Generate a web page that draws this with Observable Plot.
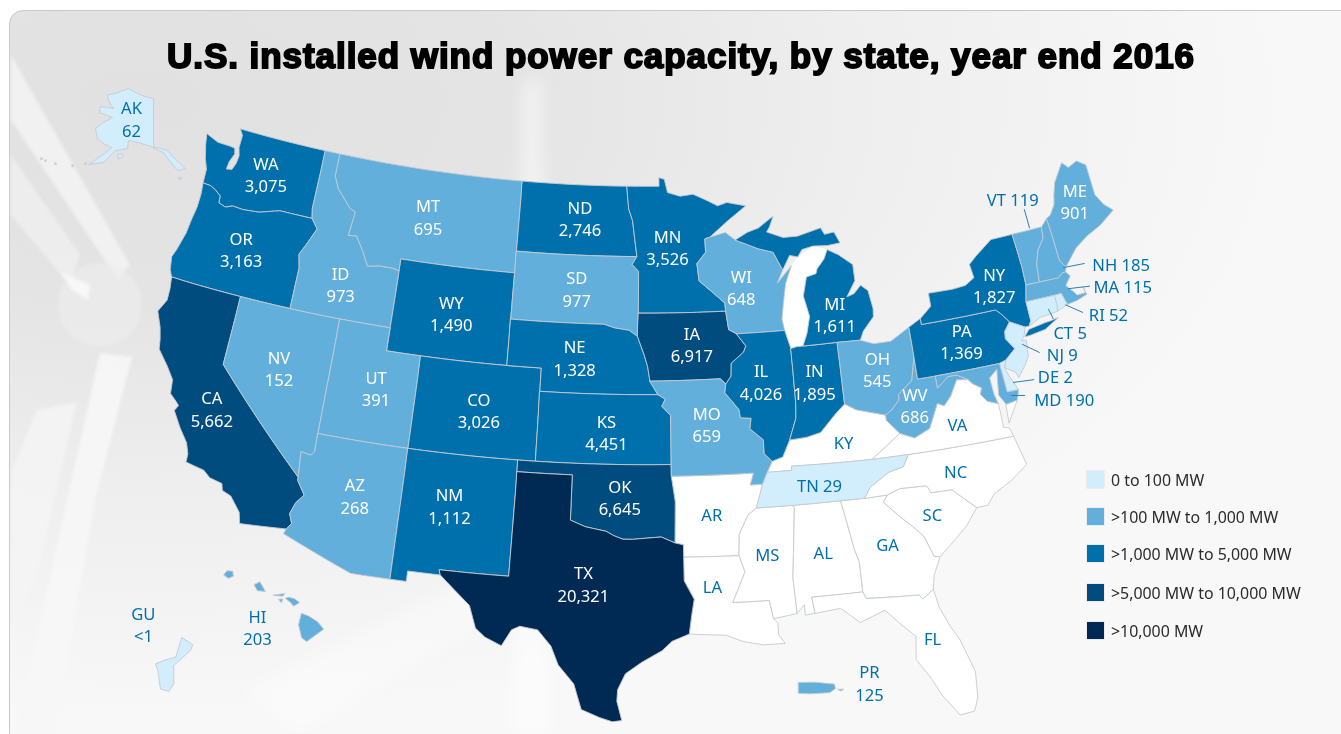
<!DOCTYPE html>
<html><head><meta charset="utf-8">
<script src="https://cdn.jsdelivr.net/npm/d3@7"></script>
<script src="https://cdn.jsdelivr.net/npm/@observablehq/plot@0.6"></script>
<style>
html,body{margin:0;padding:0;width:1341px;height:734px;overflow:hidden;background:#fff;font-family:"Noto Sans",sans-serif}
#frame{position:absolute;left:9px;top:10px;width:1360px;height:760px;border:1px solid #c9c9c9;border-radius:14px;box-sizing:border-box;overflow:hidden;
background:radial-gradient(ellipse 1150px 620px at 130px 90px,#e1e1e2 0%,#e4e4e5 32%,#eeeeef 62%,#f8f8f9 100%)}
#decor{position:absolute;left:0;top:0}
#chart{position:absolute;left:0;top:0}
h1{position:absolute;left:0;width:1362px;top:32px;margin:0;text-align:center;font:700 35px/48px "Liberation Sans",Arial,sans-serif;color:#000;-webkit-text-stroke:1.9px #000;letter-spacing:.95px;white-space:nowrap}
#legend{position:absolute;left:1087px;top:0}
#legend div{position:absolute;left:0;white-space:nowrap;font-size:15.9px;line-height:18px;color:#2b2b2b;padding-left:24px}
#legend i{position:absolute;left:0;top:0;width:17px;height:17px;box-shadow:0 0 0 .5px #d8e2ea}
</style></head>
<body>
<div id="frame"></div>
<svg id="decor" width="1341" height="734"><defs><filter id="b"><feGaussianBlur stdDeviation="1.5"/></filter><filter id="c"><feGaussianBlur stdDeviation="8"/></filter></defs>
<g filter="url(#b)"><path d="M11 55L130 265L118 280L11 120Z" fill="#f3f3f3" opacity=".85"/><path d="M11 155L80 255L70 285L11 215Z" fill="#fafafa" opacity=".45"/>
<circle cx="100" cy="305" r="42" fill="#ededed" opacity=".7"/><path d="M60 272L90 285L88 300L72 290Z" fill="#f8f8f8"/>
<path d="M100 353L132 357L95 500L55 734L15 734Z" fill="#f7f7f7" opacity=".9"/><path d="M37 410L77 402L40 560L12 640L12 470Z" fill="#f5f5f5" opacity=".8"/></g>
<g filter="url(#c)"><path d="M523 80L542 80L550 734L512 734Z" fill="#fff" opacity=".5"/><path d="M240 690L700 470L720 490L300 734Z" fill="#fff" opacity=".35"/></g></svg>
<div id="chart"></div>
<h1>U.S. installed wind power capacity, by state, year end 2016</h1>
<div id="legend"></div>
<script>
// Installed capacity (MW)
const stateCodes = ["AK","WA","OR","CA","NV","ID","MT","WY","UT","AZ","CO","NM","ND","SD","NE","KS","OK","TX","MN","IA","MO","WI","IL","IN","MI","OH","TN","WV","PA","NY","ME","VT","NH","MA","RI","CT","NJ","DE","MD","HI","GU","PR"];
const stateMW    = [62,3075,3163,5662,152,973,695,1490,391,268,3026,1112,2746,977,1328,4451,6645,20321,3526,6917,659,648,4026,1895,1611,545,29,686,1369,1827,901,119,185,115,52,5,9,2,190,203,0.5,125];
const noDataStates = ["AR","LA","MS","AL","GA","FL","SC","NC","VA","KY"];
const legendLabels = ["0 to 100 MW",">100 MW to 1,000 MW",">1,000 MW to 5,000 MW",">5,000 MW to 10,000 MW",">10,000 MW"];
const thresholds = [100,1000,5000,10000];
const palette = ["#d2edfb","#62afdc","#0070ad","#004c7f","#002a54"];

// Outlines as "lon,lat" rings
const shapes = {
WA:["-124.73,48.38 -123.9,48.16 -123.1,48.15 -122.75,48.12 -122.65,47.88 -122.85,47.5 -122.9,47.15 -122.55,47.2 -122.4,47.5 -122.35,47.85 -122.5,48.2 -122.5,48.75 -122.76,49 -117.03,49 -117.04,46.42 -116.92,46 -118.98,46 -119.3,45.93 -120.2,45.72 -121.2,45.65 -121.9,45.68 -122.3,45.55 -122.76,45.65 -122.8,45.95 -123.2,46.15 -123.55,46.26 -124.05,46.27 -124.1,46.9 -124.35,47.3 -124.6,47.9"],
OR:["-124.05,46.27 -123.97,45.8 -123.97,45.2 -124.08,44.6 -124.15,44 -124.4,43.2 -124.56,42.84 -124.42,42.3 -124.21,42 -120,42 -117.03,42 -117.03,43.8 -117.22,44.36 -116.85,44.95 -116.47,45.6 -116.7,45.8 -116.92,46 -118.98,46 -119.3,45.93 -120.2,45.72 -121.2,45.65 -121.9,45.68 -122.3,45.55 -122.76,45.65 -122.8,45.95 -123.2,46.15 -123.55,46.26"],
CA:["-124.21,42 -124.1,41.5 -124.07,41 -124.4,40.44 -124,39.8 -123.8,39.3 -123.7,38.9 -123,38.3 -122.5,37.8 -122.4,37.2 -122,36.95 -121.8,36.8 -121.95,36.55 -121.4,35.9 -120.85,35.35 -120.63,34.9 -120.62,34.55 -119.6,34.4 -119.2,34.15 -118.5,34.03 -118.4,33.75 -117.9,33.6 -117.28,33 -117.13,32.53 -114.72,32.72 -114.5,33 -114.7,33.4 -114.5,33.9 -114.14,34.3 -114.63,34.87 -114.63,35 -120,39 -120,42"],
NV:["-120,42 -117.03,42 -114.04,42 -114.04,37 -114.04,36.2 -114.2,36.03 -114.75,36.1 -114.63,35 -120,39"],
AZ:["-114.04,37 -109.05,37 -109.05,31.33 -111.07,31.33 -114.81,32.5 -114.72,32.72 -114.5,33 -114.7,33.4 -114.5,33.9 -114.14,34.3 -114.63,34.87 -114.63,35 -114.75,36.1 -114.2,36.03 -114.04,36.2"],
UT:["-114.04,42 -111.05,42 -111.05,41 -109.05,41 -109.05,37 -114.04,37"],
ID:["-117.03,49 -116.05,49 -116.05,48 -115.7,47.5 -114.7,46.75 -114.35,46.65 -114.5,45.6 -114,45.65 -113.45,45.05 -113,44.45 -112.3,44.55 -111.5,44.55 -111.05,44.48 -111.05,42 -114.04,42 -117.03,42 -117.03,43.8 -117.22,44.36 -116.85,44.95 -116.47,45.6 -116.7,45.8 -116.92,46 -117.04,46.42"],
MT:["-116.05,49 -104.05,49 -104.05,45.94 -104.05,45 -111.05,45 -111.05,44.48 -111.5,44.55 -112.3,44.55 -113,44.45 -113.45,45.05 -114,45.65 -114.5,45.6 -114.35,46.65 -114.7,46.75 -115.7,47.5 -116.05,48"],
WY:["-111.05,45 -104.05,45 -104.05,43 -104.05,41 -109.05,41 -111.05,41"],
CO:["-109.05,41 -104.05,41 -102.05,41 -102.05,40 -102.05,37 -103,37 -109.05,37"],
NM:["-109.05,37 -103,37 -103,36.5 -103.04,32 -106.62,32 -106.53,31.78 -108.21,31.78 -108.21,31.33 -109.05,31.33"],
ND:["-104.05,49 -97.23,49 -97.1,48 -96.85,47.5 -96.56,45.94 -104.05,45.94"],
SD:["-104.05,45.94 -96.56,45.94 -96.85,45.6 -96.45,45.3 -96.45,43.5 -96.5,42.5 -97,42.76 -97.85,42.85 -98.5,43 -104.05,43"],
NE:["-104.05,43 -98.5,43 -97.85,42.85 -97,42.76 -96.5,42.5 -96.1,41.7 -95.9,41.2 -95.77,40.58 -95.31,40 -102.05,40 -102.05,41 -104.05,41"],
KS:["-102.05,40 -95.31,40 -94.9,39.8 -95.1,39.5 -94.61,39.1 -94.62,37 -102.05,37"],
OK:["-103,37 -102.05,37 -94.62,37 -94.62,36.5 -94.43,35.4 -94.48,33.64 -95.2,33.9 -96,33.85 -96.7,33.8 -97.2,33.8 -97.7,33.95 -98.1,34.13 -99.2,34.3 -100,34.56 -100,36.5 -103,36.5"],
TX:["-103,36.5 -100,36.5 -100,34.56 -99.2,34.3 -98.1,34.13 -97.7,33.95 -97.2,33.8 -96.7,33.8 -96,33.85 -95.2,33.9 -94.48,33.64 -94.04,33.55 -94.04,33.02 -94.04,32 -93.55,31.2 -93.7,30.5 -93.84,29.7 -94.7,29.4 -95.2,29 -96.2,28.5 -97,28 -97.37,27.3 -97.4,26.8 -97.15,25.96 -97.6,25.9 -98.2,26.07 -99.1,26.4 -99.5,27.5 -100.3,28.3 -100.7,29.1 -101.4,29.77 -102.3,29.88 -102.7,29.7 -103.15,28.98 -104,29.3 -104.5,29.65 -104.9,30.6 -106.53,31.78 -106.62,32 -103.04,32"],
MN:["-97.23,49 -95.15,49 -95.15,49.38 -94.8,49.3 -94.6,48.72 -93.8,48.55 -92.95,48.62 -92,48.3 -91.4,48.07 -90.8,48.2 -89.6,48 -90.8,47.4 -92,46.72 -92.29,46.66 -92.29,46.07 -92.85,45.6 -92.75,44.85 -91.9,44.3 -91.25,43.85 -91.22,43.5 -96.45,43.5 -96.45,45.3 -96.85,45.6 -96.56,45.94 -96.85,47.5 -97.1,48"],
IA:["-96.45,43.5 -91.22,43.5 -91.1,42.7 -90.64,42.5 -90.15,41.95 -90.3,41.7 -91.05,41.25 -91.1,40.7 -91.42,40.38 -91.73,40.61 -95.77,40.58 -95.9,41.2 -96.1,41.7 -96.5,42.5"],
MO:["-95.77,40.58 -91.73,40.61 -91.42,40.38 -91.5,40 -90.75,39.25 -90.7,38.9 -90.1,38.85 -90.2,38.4 -89.5,37.9 -89.5,37.3 -89.1,36.95 -89.4,36.5 -89.7,36 -90.37,36 -90.15,36.5 -94.62,36.5 -94.62,37 -94.61,39.1 -95.1,39.5 -94.9,39.8 -95.31,40"],
AR:["-94.62,36.5 -90.15,36.5 -90.37,36 -89.7,36 -90.1,35 -90.6,34.7 -91.1,33.9 -91.17,33 -94.04,33.02 -94.04,33.55 -94.48,33.64 -94.43,35.4"],
LA:["-94.04,33.02 -91.17,33 -90.9,32.3 -91.6,31 -89.75,31 -89.6,30.2 -89.4,30 -89.4,29.5 -89.1,29.1 -90.2,29.1 -91.2,29.3 -92,29.6 -93.84,29.7 -93.7,30.5 -93.55,31.2 -94.04,32"],
MS:["-90.1,35 -88.2,35 -88.1,34.9 -88.47,31.9 -88.4,30.35 -89.6,30.2 -89.75,31 -91.6,31 -90.9,32.3 -91.17,33 -91.1,33.9 -90.6,34.7"],
AL:["-88.2,35 -85.6,35 -85.18,32.87 -85,32.3 -85,31 -87.6,31 -87.5,30.3 -88,30.25 -88,30.7 -88.4,30.35 -88.47,31.9 -88.1,34.9"],
TN:["-89.7,36 -89.4,36.5 -88.07,36.5 -88.07,36.68 -86.5,36.65 -83.68,36.6 -81.68,36.59 -82.05,36.1 -82.9,35.95 -84,35.4 -84.32,34.99 -85.6,35 -88.2,35 -90.1,35"],
KY:["-89.4,36.5 -89.1,36.95 -88.5,37.1 -88.05,37.8 -87.1,37.85 -86.3,38 -85.4,38.7 -84.8,39.1 -84.2,38.8 -83.6,38.65 -82.6,38.4 -82.6,38.17 -81.97,37.54 -83.68,36.6 -86.5,36.65 -88.07,36.68 -88.07,36.5"],
IL:["-90.64,42.5 -87.8,42.5 -87.53,41.7 -87.53,39.35 -87.6,38.7 -88.05,37.8 -88.5,37.1 -89.1,36.95 -89.5,37.3 -89.5,37.9 -90.2,38.4 -90.1,38.85 -90.7,38.9 -90.75,39.25 -91.5,40 -91.42,40.38 -91.1,40.7 -91.05,41.25 -90.3,41.7 -90.15,41.95"],
IN:["-87.53,41.7 -87.2,41.76 -86.8,41.76 -84.8,41.76 -84.8,39.1 -85.4,38.7 -86.3,38 -87.1,37.85 -88.05,37.8 -87.6,38.7 -87.53,39.35"],
OH:["-84.8,41.76 -83.45,41.73 -82.7,41.5 -81.7,41.5 -80.52,41.98 -80.52,40.64 -80.65,40.3 -80.85,39.7 -81.7,39.2 -81.75,38.95 -82.2,38.6 -82.6,38.4 -83.6,38.65 -84.2,38.8 -84.8,39.1"],
WI:["-92.29,46.66 -92,46.72 -91,46.9 -90.4,46.55 -89,46.1 -88.1,45.9 -87.6,45.1 -88,44.55 -87.05,45.25 -87.5,44.5 -87.7,43.8 -87.9,43 -87.8,42.5 -90.64,42.5 -91.1,42.7 -91.22,43.5 -91.25,43.85 -91.9,44.3 -92.75,44.85 -92.85,45.6 -92.29,46.07"],
MI:["-90.4,46.55 -89.6,46.85 -88.9,47 -87.9,47.47 -88.2,47 -88.4,46.8 -87.4,46.5 -86.5,46.5 -85,46.75 -84.8,46.45 -84.2,46.5 -83.9,46 -84.7,45.95 -85.6,46 -86.3,45.9 -86.6,45.6 -87.1,45.7 -87.6,45.1 -88.1,45.9 -89,46.1",
    "-86.8,41.76 -84.8,41.76 -83.45,41.73 -83.2,42.1 -82.5,42.65 -82.45,43 -82.6,43.8 -83,44.07 -83.45,43.75 -83.9,43.65 -83.3,44.3 -83.3,45 -84.1,45.5 -84.75,45.78 -85,45.4 -85.5,45 -85.6,44.8 -86.2,44.7 -86.5,43.9 -86.25,43 -86.5,42.3"],
PA:["-80.52,41.98 -79.76,42.27 -79.76,42 -75.35,42 -75.05,41.75 -74.7,41.36 -75.1,41 -75.15,40.7 -74.75,40.2 -75.4,39.8 -75.79,39.72 -79.48,39.72 -80.52,39.72 -80.52,40.64"],
NY:["-79.76,42 -75.35,42 -75.05,41.75 -74.7,41.36 -73.9,41 -73.65,41 -73.49,41.2 -73.5,42.05 -73.27,42.75 -73.25,43.55 -73.35,45.01 -74.7,45 -75.8,44.45 -76.3,44.15 -76.2,43.55 -76.8,43.3 -77.6,43.25 -79.05,43.27 -79.05,42.7 -79.76,42.27",
    "-74.03,40.6 -73.75,40.6 -72.8,40.7 -71.9,41.05 -72.4,41 -72.7,40.98 -73.7,40.87"],
NJ:["-74.7,41.36 -73.9,41 -74.03,40.7 -74.25,40.45 -74,40.45 -74.1,39.75 -74.4,39.4 -74.9,38.95 -75,39.2 -75.55,39.5 -75.4,39.8 -74.75,40.2 -75.15,40.7 -75.1,41"],
DE:["-75.79,39.72 -75.4,39.8 -75.55,39.5 -75.4,39.1 -75.05,38.45 -75.7,38.46"],
MD:["-79.48,39.72 -75.79,39.72 -75.7,38.46 -75.05,38.45 -75.25,38.03 -75.9,37.95 -76.2,38.4 -76.1,39 -76,39.5 -76.5,39.2 -76.45,38.5 -76.32,38.05 -76.9,38.25 -77.2,38.6 -77.05,38.85 -77.5,39.1 -77.72,39.32 -78.3,39.6 -78.8,39.6 -79.48,39.2"],
VA:["-83.68,36.6 -81.68,36.59 -75.87,36.55 -76,36.93 -76.3,37 -76.3,37.6 -76.32,38.05 -76.9,38.25 -77.2,38.6 -77.05,38.85 -77.5,39.1 -77.72,39.32 -78.35,39.4 -78.85,38.75 -79.3,38.4 -79.65,38.55 -80.3,37.55 -81.2,37.25 -81.97,37.54",
    "-75.9,37.95 -75.25,38.03 -75.95,37.15"],
WV:["-80.52,40.64 -80.52,39.72 -79.48,39.72 -79.48,39.2 -78.8,39.6 -78.3,39.6 -77.72,39.32 -78.35,39.4 -78.85,38.75 -79.3,38.4 -79.65,38.55 -80.3,37.55 -81.2,37.25 -81.97,37.54 -82.6,38.17 -82.6,38.4 -82.2,38.6 -81.75,38.95 -81.7,39.2 -80.85,39.7 -80.65,40.3"],
NC:["-84.32,34.99 -84,35.4 -82.9,35.95 -82.05,36.1 -81.68,36.59 -75.87,36.55 -75.5,35.25 -76.5,34.7 -77.5,34.3 -77.95,33.87 -78.55,33.86 -79.67,34.8 -80.8,34.82 -80.93,35.1 -81.05,35.15 -82.4,35.2 -83.1,35"],
SC:["-83.1,35 -82.4,35.2 -81.05,35.15 -80.93,35.1 -80.8,34.82 -79.67,34.8 -78.55,33.86 -79.2,33.2 -79.9,32.7 -80.85,32.05 -81.15,32.1 -81.5,33 -82,33.5 -82.6,34 -83.35,34.7"],
GA:["-85.6,35 -84.32,34.99 -83.1,35 -83.35,34.7 -82.6,34 -82,33.5 -81.5,33 -81.15,32.1 -80.85,32.05 -81.3,31.3 -81.45,30.7 -82.05,30.36 -82.2,30.55 -84.86,30.7 -85,31 -85,32.3 -85.18,32.87"],
FL:["-87.5,30.3 -87.6,31 -85,31 -84.86,30.7 -82.2,30.55 -82.05,30.36 -81.45,30.7 -81.3,29.9 -80.9,29 -80.55,28.4 -80.05,26.9 -80.15,25.75 -80.4,25.2 -81.1,25.13 -81.8,26.1 -82.2,26.9 -82.8,27.8 -82.65,28.8 -83.4,29.5 -84,30.1 -85.3,29.7 -86.2,30.4"],
CT:["-73.65,41 -73.49,41.2 -73.5,42.05 -71.8,42.02 -71.79,41.6 -71.85,41.32 -72.9,41.25"],
RI:["-71.8,42.02 -71.38,42.02 -71.2,41.5 -71.85,41.32 -71.79,41.6"],
MA:["-73.5,42.05 -73.27,42.75 -72.46,42.73 -71.3,42.7 -71.05,42.85 -70.8,42.87 -70.6,42.65 -71,42.3 -70.65,41.95 -70.5,41.78 -70,41.78 -70.05,42.05 -69.95,41.7 -70.6,41.55 -71.2,41.5 -71.38,42.02 -71.8,42.02"],
VT:["-73.35,45.01 -71.5,45.01 -71.6,44.5 -72.05,44.1 -72.35,43.5 -72.46,42.73 -73.27,42.75 -73.25,43.55"],
NH:["-71.5,45.01 -71.08,45.3 -71.03,44.7 -70.98,43.4 -70.7,43.07 -70.8,42.87 -71.05,42.85 -71.3,42.7 -72.46,42.73 -72.35,43.5 -72.05,44.1 -71.6,44.5"],
ME:["-71.08,45.3 -70.8,45.4 -70.4,45.8 -70.25,46.2 -70,46.7 -69.23,47.46 -68.9,47.18 -68.3,47.35 -67.8,47.07 -67.8,45.7 -67.45,45.2 -67,44.85 -68,44.4 -69,44.1 -69.8,43.75 -70.7,43.07 -70.98,43.4 -71.03,44.7"],
AK:["-156.8,71.35 -148,70.4 -141,69.85 -141,59.8 -138,59.6 -135.4,59.05 -129.5,54.9 -132.4,54.76 -137,58.7 -142,60 -147.3,60.66 -151.6,60.8 -151.5,59.15 -154,58.7 -156,58.3 -159.2,55.4 -164,54 -161.5,56 -157.8,58.7 -161,59 -164.3,59.6 -166.6,61.4 -164.5,63 -161,64.65 -164,64.7 -167.7,64.7 -168.4,65.9 -165,66.3 -161.9,66.5 -164,67.2 -165.7,67.7 -167.5,68.7 -163.5,69.6 -160,70.6",
    "-154.8,57.5 -153.4,57.95 -152.6,57.5 -153.9,56.8",
    "-132.3,53.3 -131.3,53.2 -131.5,52.8 -132.3,52.9"],
HI:["-159.78,22.05 -159.6,22.23 -159.33,22.2 -159.3,21.97 -159.55,21.88","-158.27,21.57 -158.1,21.3 -157.7,21.27 -157.98,21.71","-157.3,21.1 -156.72,21.17 -156.85,21.05 -157.3,21.08","-157.05,20.9 -156.85,20.92 -156.9,20.75","-156.7,20.95 -156.55,21 -156.25,20.93 -156,20.75 -156.3,20.58 -156.45,20.75","-155.9,20.25 -155.55,20.12 -155.1,19.85 -154.8,19.5 -155.65,18.92 -155.9,19.1 -156.05,19.7"],
GU:["144.866,13.65 144.947,13.597 144.93,13.554 144.802,13.443 144.802,13.306 144.764,13.25 144.7,13.269 144.68,13.405 144.663,13.455 144.726,13.48 144.815,13.505"],
PR:["-67.2,18.45 -66.5,18.46 -65.65,18.38 -65.6,18.2 -65.85,18.03 -66.7,17.98 -67.2,18","-65.5,18.17 -65.25,18.17 -65.35,18.1"]
};
const lakeMichigan = "-87.53,41.7 -86.8,41.76 -86.5,42.3 -86.25,43 -86.5,43.9 -86.2,44.7 -85.6,44.8 -85,45.4 -84.75,45.78 -85.6,46 -86.6,45.6 -87.05,45.25 -87.5,44.5 -87.7,43.8 -87.9,43 -87.8,42.5";
const aleutianLon = [-179.1,-177.7,-174.4,-169,-165.2];
const aleutianLat = [50.7,50.8,51.3,52.5,53.95];

// Label text and where it sits
const labelText = ["AK\n62","WA\n3,075","OR\n3,163","CA\n5,662","NV\n152","ID\n973","MT\n695","WY\n1,490","UT\n391","AZ\n268","CO\n3,026","NM\n1,112","ND\n2,746","SD\n977","NE\n1,328","KS\n4,451","OK\n6,645","TX\n20,321","MN\n3,526","IA\n6,917","MO\n659","WI\n648","IL\n4,026","IN\n1,895","MI\n1,611","OH\n545","WV\n686","PA\n1,369","NY\n1,827","ME\n901","HI\n203","GU\n<1","PR\n125","AR","LA","MS","AL","GA","FL","SC","NC","VA","KY","TN 29","VT 119","NH 185","MA 115","RI 52","CT 5","NJ 9","DE 2","MD 190"];
const labelLon = [-151.9,-120.4,-120.7,-120,-116.9,-114.4,-109.8,-107.6,-111.3,-111.5,-105.4,-106.45,-100.2,-100.2,-100.15,-98.2,-97.4,-99.2,-94.65,-93.3,-92.6,-90.2,-89.4,-86.35,-84.75,-82.7,-80.9,-77.65,-75.1,-69.1,-158.1,144.57,-64.13,-92.5,-92.6,-89.7,-86.8,-83.44,-81.85,-80.9,-79.3,-78.75,-85.1,-86.65,-72.8,-67.5,-67.8,-69.05,-71.45,-72.2,-72.87,-72.7];
const labelLat = [65.4,47.4,44,37.05,39.4,43.5,47,43,39.35,34.67,39,34.8,47.57,44.5,41.53,38.4,35.6,31.86,46.37,42.16,38.7,44.5,40.4,40.2,43,40.4,38.66,41,43.07,45.7,19.6,13.75,18.45,34.85,31.76,33,32.9,32.94,28.65,33.92,35.58,37.55,37.5,35.78,46.5,42.55,41.62,40.65,40.33,39.5,38.67,37.63];
const whiteLabels = new Set(["WA","OR","CA","NV","ID","MT","WY","UT","AZ","CO","NM","ND","SD","NE","KS","OK","TX","MN","IA","MO","WI","IL","IN","MI","OH","WV","PA","NY","ME"]);

// Leader lines: [lon1,lat1,lon2,lat2]
const leaders = [[-72.26,45.92,-72.23,45.1],[-69.6,43,-70.85,43.07],[-69.67,42,-70.9,42.14],[-70.47,41,-71.3,41.5],[-72.2,41.06,-72.33,41.5],[-73.44,39.8,-74.27,40.3],[-74.1,38.72,-75.25,38.8],[-74.8,38.15,-75.5,38.27]];

const parseRing = s => s.split(" ").map(p => p.split(",").map(Number));
// split long edges so parallels curve under the conic projection
function fine(ring){const out=[];ring.forEach((a,i)=>{const b=ring[(i+1)%ring.length];const n=Math.ceil(Math.max(Math.abs(b[0]-a[0]),Math.abs(b[1]-a[1])));for(let k=0;k<n;k++)out.push([a[0]+(b[0]-a[0])*k/n,a[1]+(b[1]-a[1])*k/n]);});out.push(out[0]);return out;}
const feature = (code,value) => ({type:"Feature",properties:{code,value},geometry:{type:"MultiPolygon",coordinates:shapes[code].map(s=>[fine(parseRing(s))])}});

const features = stateCodes.map((c,i)=>feature(c,stateMW[i]));
const blanks = noDataStates.map(c=>feature(c,null));
const lake = {type:"Polygon",coordinates:[fine(parseRing(lakeMichigan))]};
const leaderLines = leaders.map(l=>({type:"LineString",coordinates:[[l[0],l[1]],[l[2],l[3]]]}));
const labels = labelText.map((t,i)=>({t,lon:labelLon[i],lat:labelLat[i],code:t.slice(0,2)}));
const aleutians = aleutianLon.map((lon,i)=>({lon,lat:aleutianLat[i]}));

// composite of the mainland and the insets
const main = d3.geoAlbers().scale(1325).translate([634.7,424.5]);
const alaska = d3.geoConicEqualArea().rotate([141,0]).center([0,60]).parallels([55,65]).scale(279).translate([153,146]);
const hawaii = d3.geoMercator().center([-157.5,20.8]).scale(1150).translate([269,601]);
const guam = d3.geoMercator().center([144.8,13.45]).scale(7500).translate([173,664]);
const puerto = d3.geoMercator().center([-66.4,18.2]).scale(1325).translate([816.5,688]);
const route = (lon,lat) => lon>0?guam:(lat>50)?alaska:(lat<24&&lon<-150)?hawaii:(lat<19&&lon>-70)?puerto:main;
const projection = d3.geoTransform({point(lon,lat){const p=route(lon,lat)([lon,lat]);this.stream.point(p[0],p[1]);}});

const strokeColor="#c4cad0";
const chart = Plot.plot({
  width:1341,height:734,margin:0,style:{background:"transparent"},
  projection,
  color:{type:"threshold",domain:thresholds,range:palette},
  marks:[
    Plot.geo([lake],{fill:"#fff",stroke:"none"}),
    Plot.geo(blanks,{fill:"#fff",stroke:strokeColor,strokeWidth:0.9}),
    Plot.geo(features,{fill:d=>d.properties.value,stroke:strokeColor,strokeWidth:0.9}),
    Plot.dot(aleutians,{x:"lon",y:"lat",r:1.4,fill:"#c9ced3"}),
    Plot.geo(leaderLines,{stroke:"#2a7fb8",strokeWidth:1,fill:"none"}),
    Plot.text(labels,{x:"lon",y:"lat",text:"t",fontSize:16.6,lineHeight:1.34,fontFamily:"Noto Sans",fill:d=>whiteLabels.has(d.code)?"#fff":"#0070ad"})
  ]
});
document.getElementById("chart").appendChild(chart);

const legend=document.getElementById("legend");
const rowsTop=[471,508,545,584,622];
legendLabels.forEach((t,i)=>{const d=document.createElement("div");d.style.top=rowsTop[i]+"px";const s=document.createElement("i");s.style.background=palette[i];d.appendChild(s);d.appendChild(document.createTextNode(t));legend.appendChild(d);});
</script>
</body></html>
